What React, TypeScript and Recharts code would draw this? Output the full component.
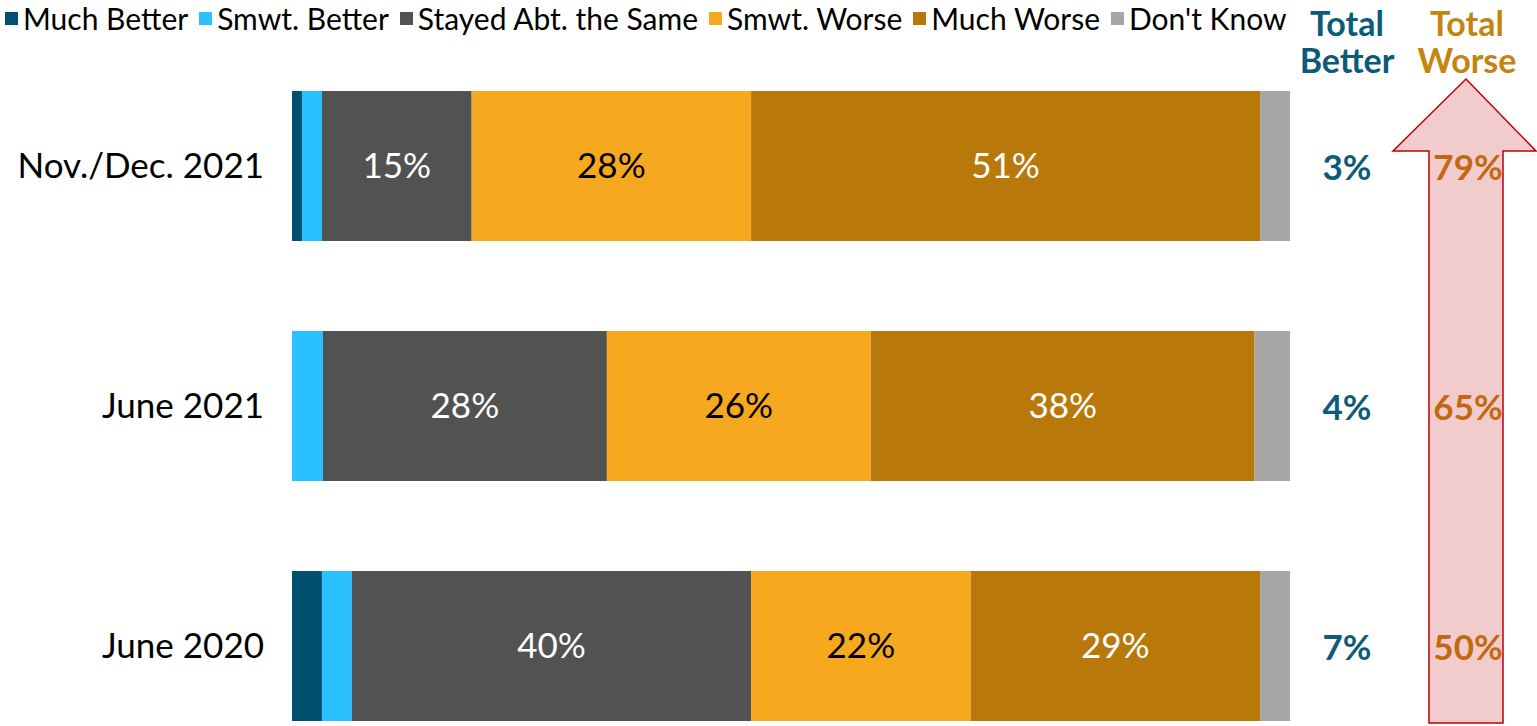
import { BarChart, Bar, XAxis, YAxis, Legend, LabelList, Customized } from "recharts";

const categories = ["Nov./Dec. 2021", "June 2021", "June 2020"];
const muchBetter = [1, 0, 3];
const smwtBetter = [2, 3.1, 3];
const stayedSame = [15, 28.45, 40];
const smwtWorse = [28, 26.45, 22];
const muchWorse = [51, 38.45, 29];
const dontKnow = [3, 3.55, 3];
const totalBetter = [3, 4, 7];
const totalWorse = [79, 65, 50];

const series = [
  { key: "muchBetter", name: "Much Better", color: "#00506E" },
  { key: "smwtBetter", name: "Smwt. Better", color: "#29C1FF" },
  { key: "stayed", name: "Stayed Abt. the Same", color: "#525252" },
  { key: "smwtWorse", name: "Smwt. Worse", color: "#F6A81E" },
  { key: "muchWorse", name: "Much Worse", color: "#B8790A" },
  { key: "dontKnow", name: "Don't Know", color: "#A6A6A6" },
];

const data = categories.map((cat, i) => ({
  cat,
  muchBetter: muchBetter[i],
  smwtBetter: smwtBetter[i],
  stayed: stayedSame[i],
  smwtWorse: smwtWorse[i],
  muchWorse: muchWorse[i],
  dontKnow: dontKnow[i],
  better: totalBetter[i],
  worse: totalWorse[i],
}));

const FONT = "Lato, 'Open Sans', sans-serif";

const pct = (v: any) => `${Math.round(Number(v))}%`;

const renderLegend = () => (
  <div
    style={{
      display: "flex",
      fontFamily: FONT,
      fontSize: 30,
      lineHeight: "36px",
      color: "#000",
      whiteSpace: "nowrap",
      paddingLeft: 5,
    }}
  >
    {series.map((s) => (
      <div key={s.key} style={{ display: "flex", alignItems: "center", marginRight: 11 }}>
        <span style={{ width: 13, height: 13, background: s.color, display: "inline-block", marginRight: 5 }} />
        <span>{s.name}</span>
      </div>
    ))}
  </div>
);

const totalLabel = (cx: number, color: string) => (props: any) => {
  const vb = props.viewBox || props;
  const y = Number(vb.y) + Number(vb.height) / 2;
  return (
    <text
      x={cx}
      y={y}
      textAnchor="middle"
      dominantBaseline="central"
      fontFamily={FONT}
      fontWeight="bold"
      fontSize={35}
      fill={color}
    >
      {props.value}%
    </text>
  );
};

const Headers = () => (
  <g>
    <polygon
      points="1466,79 1536,151 1503,151 1503,723 1429,723 1429,151 1393,151"
      fill="#F2CBCD"
      stroke="#C00000"
      strokeWidth={1.5}
    />
    <text x={1347} y={22} textAnchor="middle" dominantBaseline="central" fontFamily={FONT} fontWeight="bold" fontSize={34} fill="#0B5A7A">
      Total
    </text>
    <text x={1347} y={59} textAnchor="middle" dominantBaseline="central" fontFamily={FONT} fontWeight="bold" fontSize={34} fill="#0B5A7A">
      Better
    </text>
    <text x={1467} y={22} textAnchor="middle" dominantBaseline="central" fontFamily={FONT} fontWeight="bold" fontSize={34} fill="#C48410">
      Total
    </text>
    <text x={1467} y={59} textAnchor="middle" dominantBaseline="central" fontFamily={FONT} fontWeight="bold" fontSize={34} fill="#C48410">
      Worse
    </text>
  </g>
);

const App = () => {
  return (
    <div style={{ position: "absolute", left: 0, top: 0, width: 1537, height: 726, overflow: "hidden", background: "#fff" }}>
      <BarChart
        width={1537}
        height={780}
        data={data}
        layout="vertical"
        margin={{ top: 46, right: 247, bottom: 14, left: 0 }}
      >
        <XAxis type="number" domain={[0, 100]} hide />
        <YAxis
          type="category"
          dataKey="cat"
          width={292}
          axisLine={false}
          tickLine={false}
          tickSize={0}
          tickMargin={28}
          tick={{ fill: "#000", fontSize: 35, fontFamily: FONT }}
        />
        <Legend
          layout="horizontal"
          verticalAlign="middle"
          align="center"
          wrapperStyle={{ top: 0, left: 0, width: 1300, height: 36 }}
          content={renderLegend}
        />
        <Customized component={Headers} />
        {series.map((s) => (
          <Bar key={s.key} dataKey={s.key} name={s.name} stackId="a" fill={s.color} barSize={150} isAnimationActive={false}>
            {s.key === "stayed" && (
              <LabelList dataKey="stayed" position="center" fill="#fff" fontSize={35} fontFamily={FONT} formatter={pct} />
            )}
            {s.key === "smwtWorse" && (
              <LabelList dataKey="smwtWorse" position="center" fill="#000" fontSize={35} fontFamily={FONT} formatter={pct} />
            )}
            {s.key === "muchWorse" && (
              <LabelList dataKey="muchWorse" position="center" fill="#fff" fontSize={35} fontFamily={FONT} formatter={pct} />
            )}
            {s.key === "dontKnow" && <LabelList dataKey="better" content={totalLabel(1347, "#0E5A78")} />}
            {s.key === "dontKnow" && <LabelList dataKey="worse" content={totalLabel(1468, "#C2680E")} />}
          </Bar>
        ))}
      </BarChart>
    </div>
  );
};

export default App;
